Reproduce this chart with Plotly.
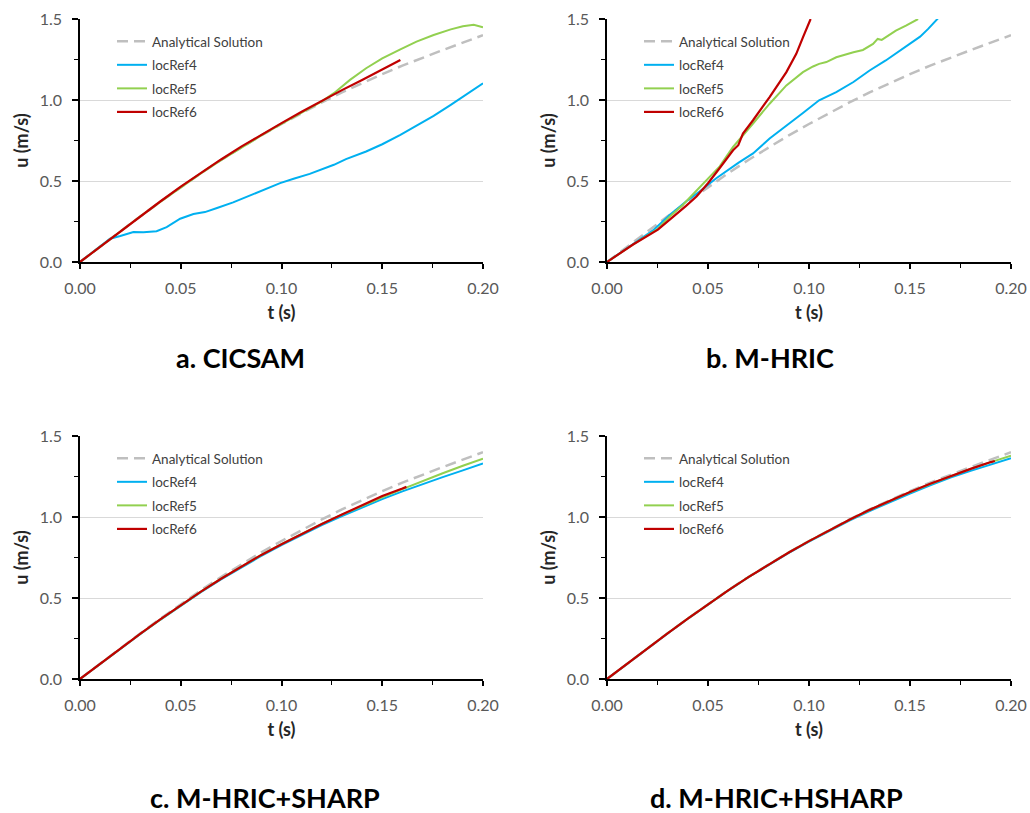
import plotly.graph_objects as go

# ---------------- data ----------------
t_ana = [0.00, 0.01, 0.02, 0.03, 0.04, 0.05, 0.06, 0.07, 0.08, 0.09, 0.10,
         0.11, 0.12, 0.13, 0.14, 0.15, 0.16, 0.17, 0.18, 0.19, 0.20]
u_ana = [0.000, 0.095, 0.189, 0.282, 0.373, 0.462, 0.548, 0.630, 0.708, 0.782, 0.852,
         0.920, 0.985, 1.047, 1.105, 1.160, 1.212, 1.261, 1.308, 1.354, 1.400]

# a. CICSAM
a_t4 = [0.000, 0.008, 0.0149, 0.020, 0.0265, 0.0315, 0.038, 0.043, 0.0497, 0.0563, 0.062,
        0.068, 0.076, 0.086, 0.0927, 0.0993, 0.106, 0.114, 0.126, 0.132, 0.142, 0.150,
        0.159, 0.167, 0.1755, 0.184, 0.192, 0.200]
a_u4 = [0.000, 0.076, 0.144, 0.160, 0.185, 0.183, 0.190, 0.215, 0.267, 0.296, 0.308,
        0.333, 0.368, 0.419, 0.452, 0.487, 0.514, 0.544, 0.600, 0.635, 0.682, 0.727,
        0.785, 0.840, 0.902, 0.970, 1.038, 1.103]
a_t5 = [0.00, 0.01, 0.02, 0.03, 0.04, 0.05, 0.06, 0.07, 0.08, 0.09, 0.10, 0.11, 0.12,
        0.126, 0.13, 0.134, 0.142, 0.15, 0.159, 0.167, 0.1755, 0.184, 0.19, 0.1954, 0.20]
a_u5 = [0.000, 0.095, 0.189, 0.282, 0.373, 0.462, 0.547, 0.629, 0.707, 0.781, 0.852, 0.922, 0.992,
        1.042, 1.082, 1.124, 1.196, 1.257, 1.313, 1.360, 1.401, 1.436, 1.455, 1.465, 1.449]
a_t6 = [0.00, 0.01, 0.02, 0.03, 0.04, 0.05, 0.06, 0.07, 0.08, 0.09, 0.10, 0.11, 0.12,
        0.13, 0.14, 0.15, 0.159]
a_u6 = [0.000, 0.095, 0.190, 0.283, 0.375, 0.465, 0.551, 0.633, 0.712, 0.786, 0.857, 0.927, 0.996,
        1.061, 1.124, 1.188, 1.247]

# b. M-HRIC
b_t4 = [0.000, 0.0129, 0.0228, 0.031, 0.0393, 0.0458, 0.0541, 0.065, 0.0723, 0.0805, 0.0888,
        0.097, 0.105, 0.1135, 0.122, 0.130, 0.138, 0.1465, 0.155, 0.159, 0.164]
b_u4 = [0.000, 0.108, 0.195, 0.290, 0.375, 0.435, 0.517, 0.612, 0.670, 0.762, 0.844,
        0.920, 0.998, 1.049, 1.111, 1.182, 1.244, 1.316, 1.391, 1.439, 1.506]
b_t5 = [0.000, 0.0129, 0.0252, 0.031, 0.0376, 0.0475, 0.0558, 0.059, 0.0624, 0.0723, 0.0805,
        0.0888, 0.097, 0.102, 0.105, 0.1086, 0.1135, 0.122, 0.1267, 0.1317, 0.134, 0.136,
        0.138, 0.143, 0.148, 0.154]
b_u5 = [0.000, 0.108, 0.205, 0.280, 0.353, 0.480, 0.590, 0.650, 0.710, 0.855, 0.977,
        1.090, 1.172, 1.207, 1.223, 1.234, 1.264, 1.295, 1.309, 1.346, 1.377, 1.371,
        1.387, 1.428, 1.459, 1.500]
b_t6 = [0.000, 0.0129, 0.0252, 0.031, 0.039, 0.0443, 0.050, 0.0558, 0.0624, 0.065, 0.0673,
        0.0723, 0.0805, 0.0888, 0.0937, 0.097, 0.1008]
b_u6 = [0.000, 0.108, 0.200, 0.260, 0.345, 0.404, 0.486, 0.580, 0.690, 0.721, 0.793,
        0.875, 1.018, 1.172, 1.285, 1.387, 1.500]

# c. M-HRIC+SHARP
c_t = t_ana
c_u4 = [0.000, 0.094, 0.187, 0.278, 0.367, 0.453, 0.536, 0.615, 0.690, 0.760, 0.827,
        0.890, 0.950, 1.006, 1.059, 1.110, 1.158, 1.203, 1.246, 1.288, 1.330]
c_u5 = [0.000, 0.094, 0.188, 0.279, 0.368, 0.455, 0.539, 0.619, 0.695, 0.766, 0.833,
        0.897, 0.958, 1.015, 1.069, 1.121, 1.172, 1.222, 1.270, 1.316, 1.360]
c_t6 = [0.00, 0.01, 0.02, 0.03, 0.04, 0.05, 0.06, 0.07, 0.08, 0.09, 0.10,
        0.11, 0.12, 0.13, 0.14, 0.15, 0.16, 0.162]
c_u6 = [0.000, 0.094, 0.188, 0.280, 0.369, 0.456, 0.539, 0.619, 0.695, 0.766, 0.832,
        0.896, 0.957, 1.015, 1.074, 1.130, 1.176, 1.186]

# d. M-HRIC+HSHARP
d_t = t_ana
d_u4 = [0.000, 0.095, 0.189, 0.281, 0.372, 0.461, 0.546, 0.628, 0.706, 0.779, 0.848,
        0.915, 0.978, 1.037, 1.092, 1.145, 1.195, 1.243, 1.285, 1.325, 1.363]
d_u5 = [0.000, 0.095, 0.189, 0.282, 0.373, 0.462, 0.547, 0.629, 0.707, 0.781, 0.851,
        0.918, 0.982, 1.043, 1.100, 1.153, 1.204, 1.252, 1.297, 1.339, 1.378]
d_t6 = [0.00, 0.01, 0.02, 0.03, 0.04, 0.05, 0.06, 0.07, 0.08, 0.09, 0.10,
        0.11, 0.12, 0.13, 0.14, 0.15, 0.16, 0.17, 0.18, 0.19, 0.192]
d_u6 = [0.000, 0.095, 0.189, 0.282, 0.373, 0.462, 0.547, 0.629, 0.707, 0.781, 0.851,
        0.918, 0.983, 1.044, 1.101, 1.154, 1.205, 1.253, 1.297, 1.339, 1.346]

panel_titles = ["a. CICSAM", "b. M-HRIC", "c. M-HRIC+SHARP", "d. M-HRIC+HSHARP"]
series_names = ["Analytical Solution", "locRef4", "locRef5", "locRef6"]
x_ticks = [0.00, 0.05, 0.10, 0.15, 0.20]
x_ticklabels = ["0.00", "0.05", "0.10", "0.15", "0.20"]
y_ticks = [0.0, 0.5, 1.0, 1.5]
y_ticklabels = ["0.0", "0.5", "1.0", "1.5"]

panels = [
    [(t_ana, u_ana), (a_t4, a_u4), (a_t5, a_u5), (a_t6, a_u6)],
    [(t_ana, u_ana), (b_t4, b_u4), (b_t5, b_u5), (b_t6, b_u6)],
    [(t_ana, u_ana), (c_t, c_u4), (c_t, c_u5), (c_t6, c_u6)],
    [(t_ana, u_ana), (d_t, d_u4), (d_t, d_u5), (d_t6, d_u6)],
]

# ---------------- style ----------------
W, H = 1030, 813
FONT = "Lato"
line_styles = [
    dict(color="#BFBFBF", width=2.5, dash="11px,6px"),
    dict(color="#00B0F0", width=2),
    dict(color="#92D050", width=2),
    dict(color="#C00000", width=2.2),
]
# plot-area pixel boxes in the window (left, right, top, bottom)
boxes = [(80, 483, 19, 262), (607, 1011, 19, 262),
         (80, 483, 436, 679), (607, 1011, 436, 679)]
title_pos = [(240, 357), (770, 357), (265, 797), (776, 797)]


def px(v):
    return v / W


def py(v):
    return 1 - v / H


fig = go.Figure()
layout = dict(
    width=W, height=H, margin=dict(l=0, r=0, t=0, b=0, autoexpand=False),
    paper_bgcolor="white", plot_bgcolor="white",
    font=dict(family=FONT, color="#595959", size=14),
    annotations=[],
)

for i, series in enumerate(panels):
    n = i + 1
    xa = "x" if n == 1 else f"x{n}"
    ya = "y" if n == 1 else f"y{n}"
    lg = "legend" if n == 1 else f"legend{n}"
    for j, (tx, uy) in enumerate(series):
        fig.add_trace(go.Scatter(
            x=tx, y=uy, mode="lines", name=series_names[j],
            line=line_styles[j], xaxis=xa, yaxis=ya, legend=lg,
            legendgroup=f"p{n}s{j}", showlegend=True,
        ))
    l, r, top, bot = boxes[i]
    xkey = "xaxis" if n == 1 else f"xaxis{n}"
    ykey = "yaxis" if n == 1 else f"yaxis{n}"
    layout[xkey] = dict(
        domain=[px(l), px(r)], anchor=ya, range=[0, 0.2], automargin=False,
        tickvals=x_ticks, ticktext=x_ticklabels,
        showline=True, linecolor="black", linewidth=1.5,
        ticks="outside", ticklen=5, tickwidth=1.5, tickcolor="black",
        ticklabelstandoff=6,
        minor=dict(tickvals=[0.025, 0.075, 0.125, 0.175], ticks="outside",
                   ticklen=4, tickwidth=1.2, tickcolor="black", showgrid=False),
        showgrid=False, zeroline=False,
        tickfont=dict(family=FONT, size=16, color="#595959"),
        title=dict(text="<b>t (s)</b>", standoff=10,
                   font=dict(family=FONT, size=18, color="#262626")),
    )
    layout[ykey] = dict(
        domain=[py(bot), py(top)], anchor=xa, range=[0, 1.5], automargin=False,
        tickvals=y_ticks, ticktext=y_ticklabels,
        showline=True, linecolor="black", linewidth=1.5,
        ticks="outside", ticklen=6, tickwidth=1.5, tickcolor="black",
        ticklabelstandoff=7,
        minor=dict(tickvals=[0.25, 0.75, 1.25], ticks="outside",
                   ticklen=4, tickwidth=1.2, tickcolor="black", showgrid=False),
        showgrid=True, gridcolor="#D9D9D9", gridwidth=1, zeroline=False,
        tickfont=dict(family=FONT, size=16, color="#595959"),
        title=dict(text="<b>u (m/s)</b>", standoff=6,
                   font=dict(family=FONT, size=18, color="#262626")),
    )
    layout[lg] = dict(
        x=px(l + 32), y=py(top + 7), xanchor="left", yanchor="top",
        bgcolor="rgba(0,0,0,0)", borderwidth=0, traceorder="grouped",
        tracegroupgap=3, itemwidth=30,
        font=dict(family=FONT, size=13.5, color="#404040"),
    )
    tx, ty = title_pos[i]
    layout["annotations"].append(dict(
        text=f"<b>{panel_titles[i]}</b>", xref="paper", yref="paper",
        x=px(tx), y=py(ty), xanchor="center", yanchor="middle",
        showarrow=False, font=dict(family=FONT, size=27, color="black"),
    ))

fig.update_layout(**layout)
fig.write_html(
    "out.html",
    config={"displayModeBar": False},
    post_script="document.body.style.margin='0';document.body.style.overflow='hidden';",
)
